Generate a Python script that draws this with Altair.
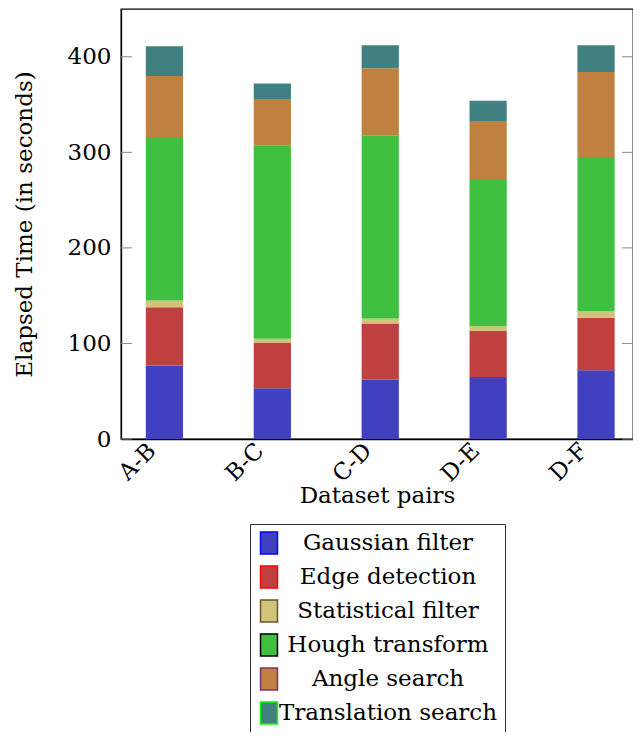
import altair as alt
import pandas as pd

pairs = ["A-B", "B-C", "C-D", "D-E", "D-F"]
series = ["Gaussian filter", "Edge detection", "Statistical filter",
          "Hough transform", "Angle search", "Translation search"]
gaussian = [77, 53, 62, 65, 72]
edge = [61, 48, 59, 48, 55]
statistical = [7, 4, 5, 5, 7]
hough = [171, 202, 192, 153, 160]
angle = [64, 48, 70, 61, 90]
translation = [31, 17, 24, 22, 28]
y_ticks = [0, 100, 200, 300, 400]

fills = ["#4040c0", "#c04040", "#cfc47a", "#40c040", "#c08040", "#408080"]
strokes = ["#0000ff", "#ff0000", "#6b5430", "#000000", "#80307a", "#00ff00"]

values = [gaussian, edge, statistical, hough, angle, translation]
rows = []
for si, (name, vals) in enumerate(zip(series, values)):
    for p, v in zip(pairs, vals):
        rows.append({"pair": p, "series": name, "order": si, "time": v})
df = pd.DataFrame(rows)
ticks_df = pd.DataFrame({"t": y_ticks})

FONT = "DejaVu Serif"
FS = 23
W, H = 512, 430

yscale = alt.Scale(domain=[0, 450], nice=False)


def make_legend():
    return alt.Legend(title=None, orient="none", legendX=129, legendY=515,
                      direction="vertical", strokeColor="#333333", padding=7,
                      symbolType="M-0.77,-1L0.77,-1L0.77,1L-0.77,1Z",
                      symbolSize=484, symbolStrokeWidth=1.5, symbolOpacity=1,
                      labelAlign="center", labelOffset=107,
                      labelFontSize=FS, labelFont=FONT, labelColor="black",
                      labelLimit=400, rowPadding=6)


bars = alt.Chart(df).mark_bar(strokeWidth=0).encode(
    x=alt.X("pair:N", sort=pairs,
            scale=alt.Scale(paddingInner=0.655, paddingOuter=0.2, align=0.575),
            axis=alt.Axis(title="Dataset pairs", labelAngle=-45, ticks=False,
                          labelFontSize=FS, titleFontSize=FS, labelFont=FONT,
                          titleFont=FONT, labelColor="black", titleColor="black",
                          titleFontWeight="normal", labelPadding=0, titlePadding=-2,
                          labelOffset=-20,
                          domainColor="black", domainWidth=1.3)),
    y=alt.Y("time:Q", stack="zero", scale=yscale,
            axis=alt.Axis(title="Elapsed Time (in seconds)", values=y_ticks,
                          ticks=False, grid=False, labelFontSize=FS,
                          titleFontSize=FS, labelFont=FONT, titleFont=FONT,
                          labelColor="black", titleColor="black",
                          titleFontWeight="normal", labelPadding=10,
                          titlePadding=31, domainColor="black", domainWidth=1.3)),
    fill=alt.Fill("series:N", scale=alt.Scale(domain=series, range=fills),
                  legend=make_legend()),
    stroke=alt.Stroke("series:N", scale=alt.Scale(domain=series, range=strokes),
                      legend=make_legend()),
    order=alt.Order("order:Q", sort="ascending"),
)

left_ticks = alt.Chart(ticks_df).mark_rule(color="#888888", strokeWidth=1).encode(
    y=alt.Y("t:Q", scale=yscale), x=alt.value(0), x2=alt.value(11))
right_ticks = alt.Chart(ticks_df).mark_rule(color="#888888", strokeWidth=1).encode(
    y=alt.Y("t:Q", scale=yscale), x=alt.value(W - 11), x2=alt.value(W))

chart = alt.layer(bars, left_ticks, right_ticks).properties(
    width=W, height=H,
    autosize=alt.AutoSizeParams(type="none"),
    padding={"left": 113, "top": 1, "right": 0, "bottom": 293},
).configure_view(stroke="black", strokeWidth=1.3)

chart.save("out.html", embed_options={"renderer": "svg", "actions": False})
